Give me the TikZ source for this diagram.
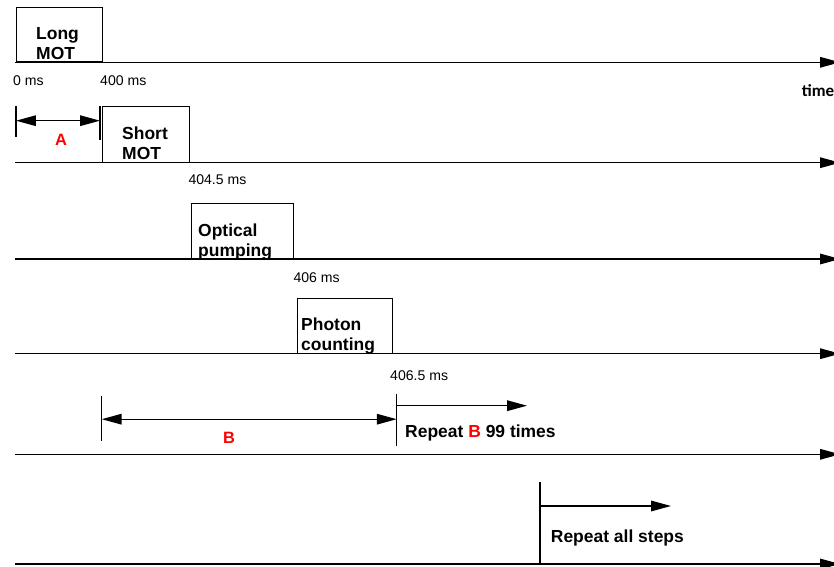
\documentclass[tikz,border=0pt]{standalone}
\usepackage{fontspec}
\setmainfont{Liberation Sans}
\newfontfamily\axisfont{Carlito}
\usetikzlibrary{arrows.meta, positioning}

\begin{document}
\begin{tikzpicture}[x=0.03cm, y=-0.03cm,
        pulse/.style = {draw, line width=0.8pt, inner sep=0pt, anchor=south west},
        lbl/.style = {font=\fontsize{14.9}{17.1}\selectfont\bfseries, align=left, inner sep=0pt, anchor=base west},
        stamp/.style = {font=\fontsize{12}{14}\selectfont, inner sep=0pt, anchor=base west},
        tag/.style = {font=\fontsize{14}{16}\selectfont\bfseries, text=red, inner sep=0pt, anchor=base west},
        axis/.style = {line width=1.1pt, -{Triangle[length=17pt, width=9pt]}},
        span/.style = {line width=1.1pt, {Triangle[length=17pt, width=9pt]}-{Triangle[length=17pt, width=9pt]}},
        stopline/.style = {line width=1.1pt}]

    \useasboundingbox (0,0) rectangle (834,567);

    % timelines
    \foreach \i/\y in {1/62.3, 2/162.7, 3/259, 4/353.7, 5/454.3, 6/564} {
        \coordinate (t\i s) at (15,\y);
        \coordinate (t\i e) at (840,\y);
        \path[axis] (t\i s) edge (t\i e);
    }

    % pulses
    \node (lm) [pulse, minimum width=2.598cm, minimum height=1.62cm] at (15.7,62.3) {};
    \node (sm) [pulse, minimum width=2.61cm, minimum height=1.662cm] at (102.3,162.7) {};
    \node (op) [pulse, minimum width=3.078cm, minimum height=1.65cm] at (190.7,259) {};
    \node (pc) [pulse, minimum width=2.832cm, minimum height=1.641cm] at (297.3,353.7) {};

    \node (lmt) [lbl] at (36,59.5) {Long\\MOT};
    \node (smt) [lbl] at (122,160) {Short\\MOT};
    \node (opt) [lbl] at (198,256.7) {Optical\\pumping};
    \node (pct) [lbl] at (301,350.7) {Photon\\counting};

    % times
    \node (s0) [stamp] at (13,86) {0 ms};
    \node (s1) [stamp] at (100,86) {400 ms};
    \node (s2) [stamp] at (188.3,185) {404.5 ms};
    \node (s3) [stamp] at (293.3,282.3) {406 ms};
    \node (s4) [stamp] at (390,380) {406.5 ms};
    \node (tm) [stamp, font=\axisfont\fontsize{14.5}{16}\selectfont\bfseries] at (801.7,96.7) {time};

    % A
    \coordinate (a1) at (16,106);
    \coordinate (a2) at (16,137);
    \coordinate (a3) at (100,106);
    \coordinate (a4) at (100,140);
    \coordinate (al) at (16,120.7);
    \coordinate (ar) at (100,120.7);
    \path[stopline] (a1) edge (a2) (a3) edge (a4);
    \path[span] (al) edge (ar);
    \node (A) [tag] at (55,145.7) {A};

    % B
    \coordinate (b1) at (101.7,396);
    \coordinate (b2) at (101.7,440.7);
    \coordinate (b3) at (396.7,394);
    \coordinate (b4) at (396.7,446);
    \coordinate (bl) at (101.7,419.2);
    \coordinate (br) at (396.7,419.2);
    \coordinate (r1) at (397,405.7);
    \coordinate (r2) at (527,405.7);
    \path[stopline] (b1) edge (b2) (b3) edge (b4);
    \path[span] (bl) edge (br);
    \path[axis] (r1) edge (r2);
    \node (B) [tag] at (223,443) {B};
    \node (rb) [lbl] at (405,437.7) {Repeat \textcolor{red}{B} 99 times};

    % all steps
    \coordinate (c1) at (540,481.7);
    \coordinate (c2) at (540,564);
    \coordinate (q1) at (540,506);
    \coordinate (q2) at (671,506);
    \path[stopline] (c1) edge (c2);
    \path[axis] (q1) edge (q2);
    \node (ra) [lbl] at (550.7,542.7) {Repeat all steps};

\end{tikzpicture}
\end{document}
